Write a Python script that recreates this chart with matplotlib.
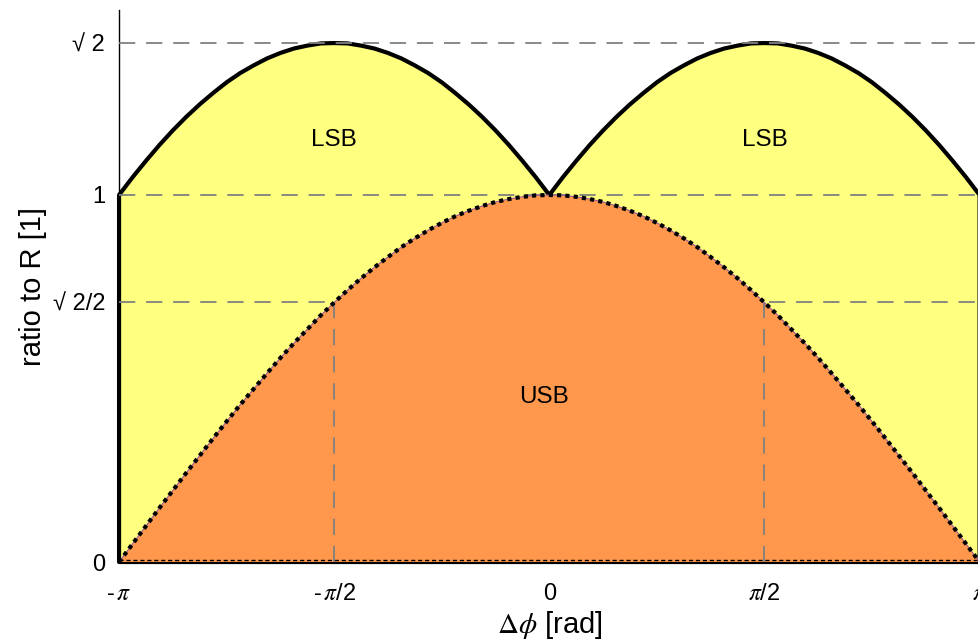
import numpy as np
import matplotlib
matplotlib.use("Agg")
import matplotlib.pyplot as plt
from matplotlib.patches import Polygon

plt.rcParams['font.family'] = ['Liberation Sans', 'DejaVu Sans']
plt.rcParams['mathtext.fontset'] = 'stix'

# phase difference samples (rad), step pi/32
phase = np.linspace(-np.pi, np.pi, 65)

# upper sideband amplitude ratio
usb = [0.000, 0.049, 0.098, 0.147, 0.195, 0.243, 0.290, 0.337,
       0.383, 0.428, 0.471, 0.514, 0.556, 0.596, 0.634, 0.672,
       0.707, 0.741, 0.773, 0.803, 0.831, 0.858, 0.882, 0.904,
       0.924, 0.942, 0.957, 0.970, 0.981, 0.989, 0.995, 0.999,
       1.000,
       0.999, 0.995, 0.989, 0.981, 0.970, 0.957, 0.942, 0.924,
       0.904, 0.882, 0.858, 0.831, 0.803, 0.773, 0.741, 0.707,
       0.672, 0.634, 0.596, 0.556, 0.514, 0.471, 0.428, 0.383,
       0.337, 0.290, 0.243, 0.195, 0.147, 0.098, 0.049, 0.000]

# total (lower sideband envelope) amplitude ratio
total = [1.000, 1.048, 1.093, 1.136, 1.176, 1.213, 1.247, 1.278,
         1.307, 1.332, 1.353, 1.372, 1.387, 1.399, 1.407, 1.413,
         1.414, 1.413, 1.407, 1.399, 1.387, 1.372, 1.353, 1.332,
         1.307, 1.278, 1.247, 1.213, 1.176, 1.136, 1.093, 1.048,
         1.000,
         1.048, 1.093, 1.136, 1.176, 1.213, 1.247, 1.278, 1.307,
         1.332, 1.353, 1.372, 1.387, 1.399, 1.407, 1.413, 1.414,
         1.413, 1.407, 1.399, 1.387, 1.372, 1.353, 1.332, 1.307,
         1.278, 1.247, 1.213, 1.176, 1.136, 1.093, 1.048, 1.000]

xticks = [-np.pi, -np.pi / 2, 0, np.pi / 2, np.pi]
xticklabels = [r'-$\,\pi$', r'-$\,\pi$/2', '0', r'$\pi$/2', r'$\pi$']
yticks = [0, np.sqrt(2) / 2, 1, np.sqrt(2)]
yticklabels = ['0', '√ 2/2', '1', '√ 2']

yellow = (1.0, 1.0, 0.5)
orange = (1.0, 0.596, 0.298)
grid_gray = (0.5, 0.5, 0.5)

fig = plt.figure(figsize=(9.79, 6.42), dpi=100)
ax = fig.add_axes([0.1216, 0.1246, 0.8790, 0.8598])

x = np.asarray(phase)
u = np.asarray(usb)
t = np.asarray(total)

# yellow region: everything under the envelope
ypoly = np.column_stack([np.r_[x[0], x, x[-1]], np.r_[0, t, 0]])
ax.add_patch(Polygon(ypoly, closed=True, facecolor=yellow, edgecolor='black',
                     lw=3, joinstyle='round', clip_on=False, zorder=1))

# horizontal reference levels
for lvl in [np.sqrt(2), 1, np.sqrt(2) / 2]:
    ax.plot([-np.pi, np.pi], [lvl, lvl], color=grid_gray, lw=1.3,
            linestyle=(0, (9, 6)), zorder=2)

# orange region: upper sideband
opoly = np.column_stack([np.r_[x, x[-1], x[0]], np.r_[u, 0, 0]])
ax.add_patch(Polygon(opoly, closed=True, facecolor=orange, edgecolor='none',
                     zorder=3))
ax.plot([-np.pi, np.pi], [0.006, 0.006], color='black', lw=1.0,
        linestyle=(0, (3, 2)), zorder=4)

# vertical reference lines at +-pi/2
for xv in [-np.pi / 2, np.pi / 2]:
    ax.plot([xv, xv], [0, np.sqrt(2) / 2], color=grid_gray, lw=1.3,
            linestyle=(0, (9, 6)), zorder=4)

ax.plot(x, u, color=(0.6, 0.35, 0.6), lw=0.8, zorder=5)
ax.plot(x, u, color='black', lw=3, linestyle=(0, (1, 1)),
        dash_capstyle='butt', zorder=6)

ax.text(-np.pi / 2, 1.15, 'LSB', ha='center', va='center', fontsize=17.5)
ax.text(np.pi / 2, 1.15, 'LSB', ha='center', va='center', fontsize=17.5)
ax.text(-0.04, 0.45, 'USB', ha='center', va='center', fontsize=17.5)

ax.set_xlim(-np.pi, np.pi)
ax.set_ylim(0, 1.504)
ax.set_xticks(xticks)
ax.set_xticklabels(xticklabels, fontsize=17)
ax.set_yticks(yticks)
ax.set_yticklabels(yticklabels, fontsize=17)
ax.tick_params(axis='both', length=0)
ax.tick_params(axis='x', pad=15)
ax.tick_params(axis='y', pad=10)

for side in ['top', 'right', 'bottom']:
    ax.spines[side].set_visible(False)
ax.spines['left'].set_linewidth(1.0)
ax.spines['left'].set_zorder(0)

ax.set_xlabel(r'$\Delta\phi$ [rad]', fontsize=21, labelpad=3)
ax.set_ylabel('ratio to R [1]', fontsize=21, labelpad=4)

fig.savefig('out.png', dpi=100)
